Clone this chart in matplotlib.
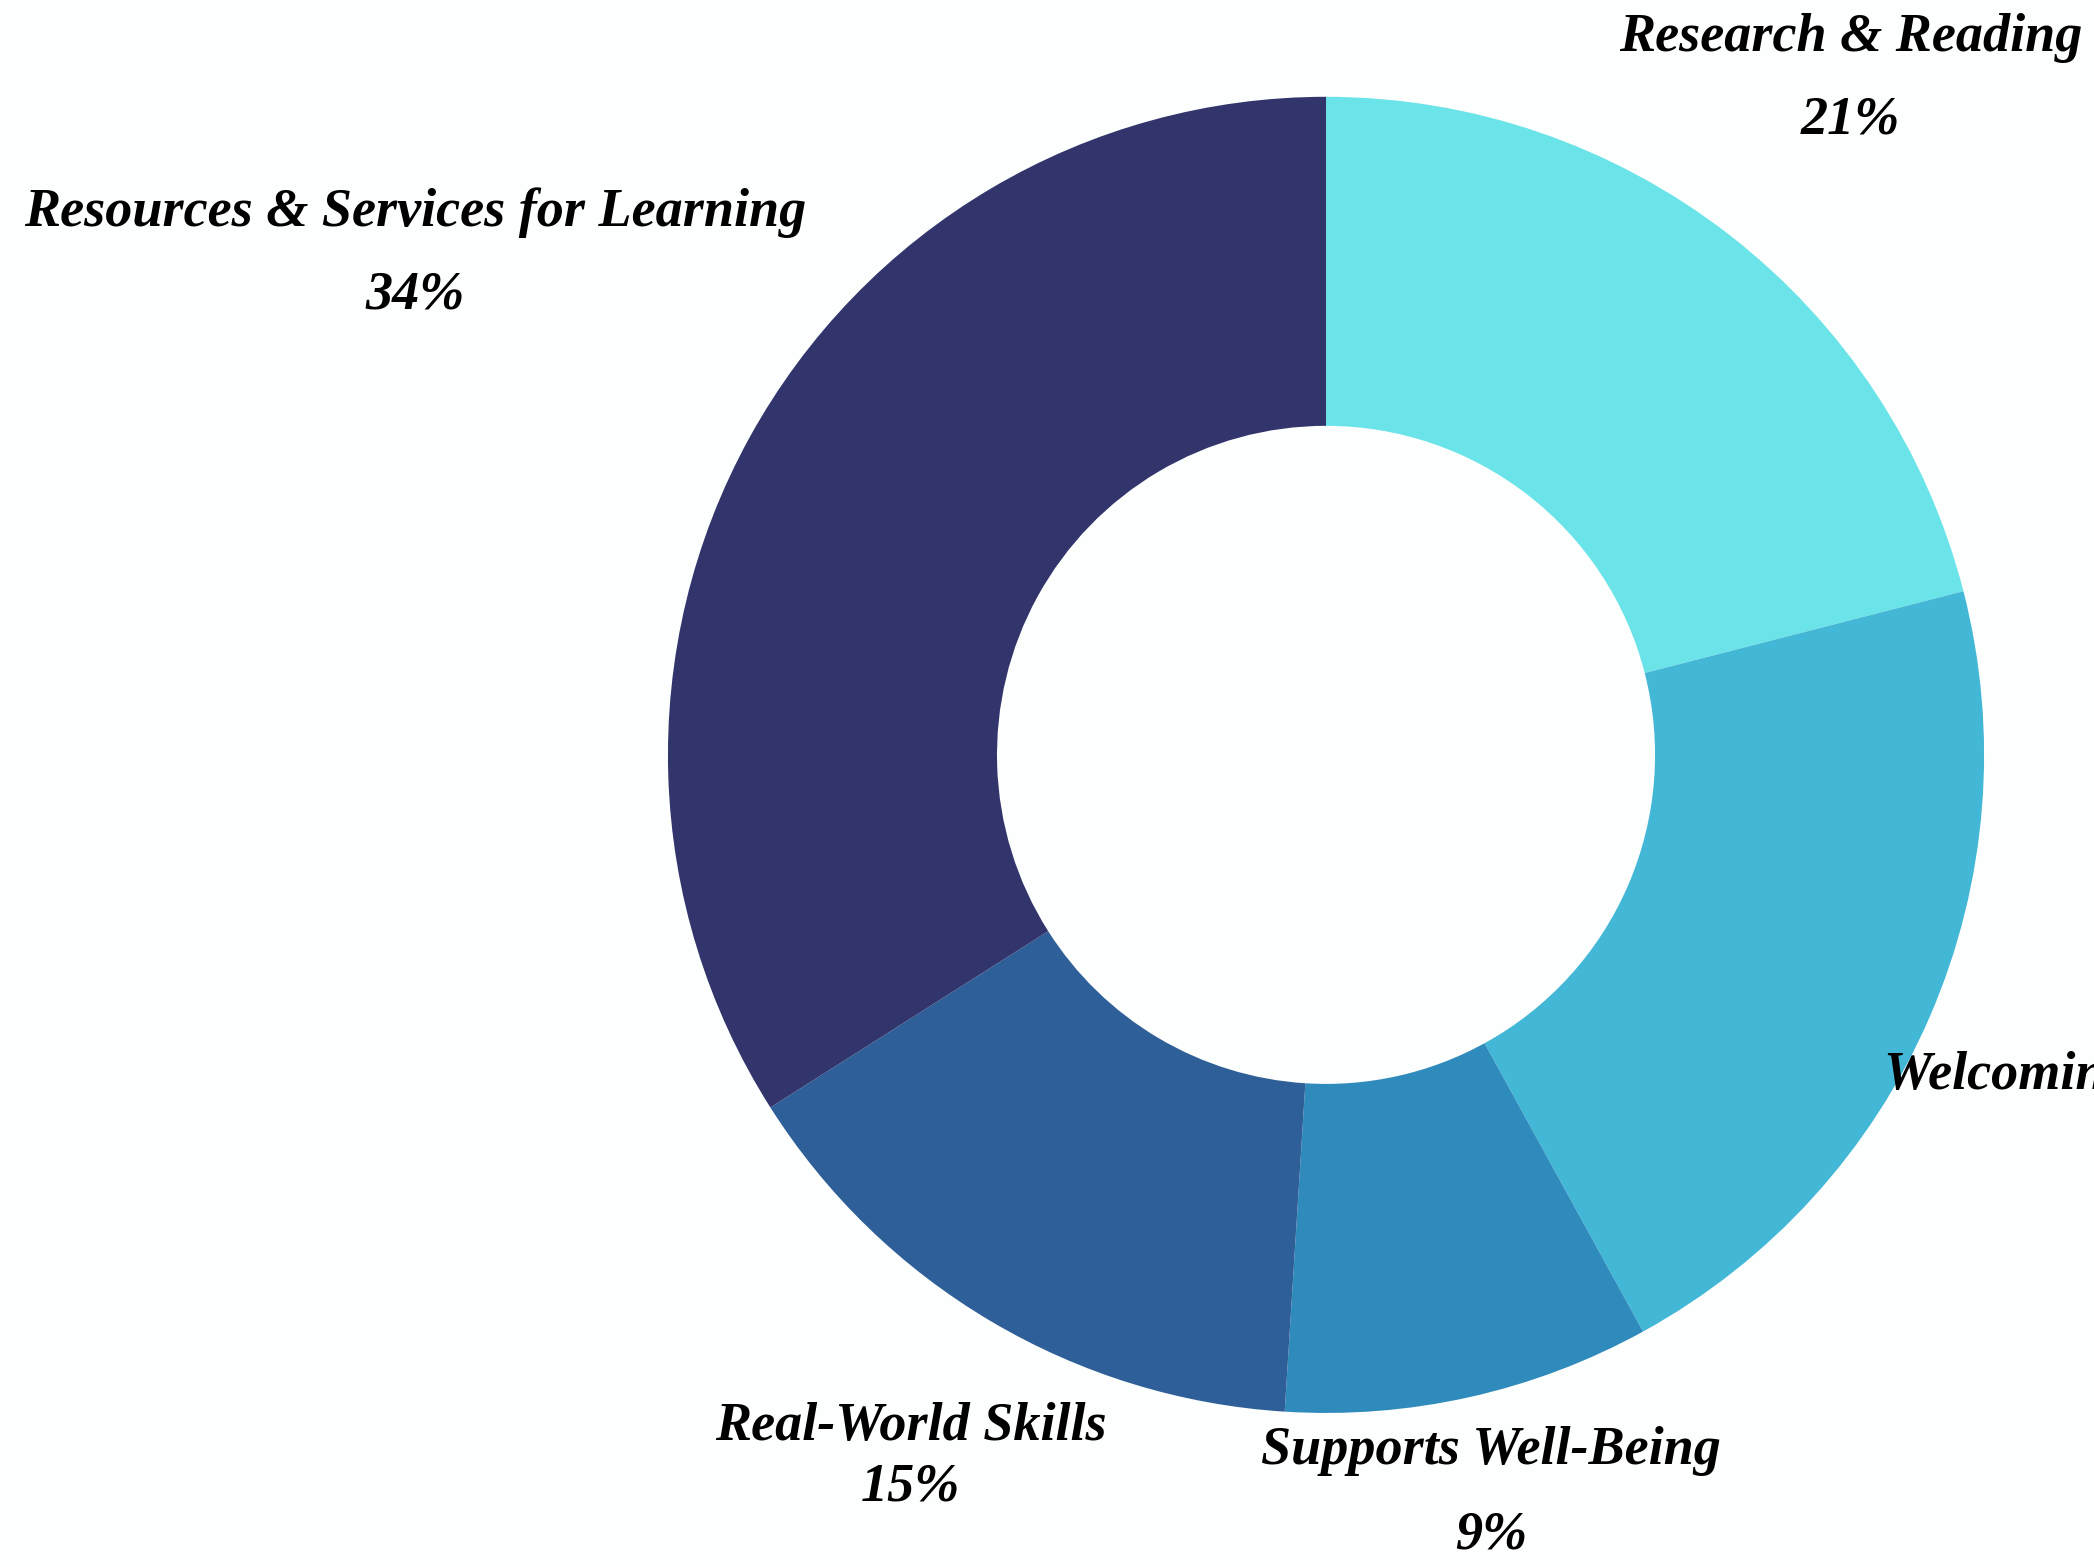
import matplotlib
matplotlib.use("Agg")
import numpy as np
import matplotlib.pyplot as plt


# Data, in drawing order (clockwise from the top)
labels = ['Research & Reading', 'Welcoming Environment', 'Supports Well-Being',
          'Real-World Skills', 'Resources & Services for Learning']
values = [21, 21, 9, 15, 34]
colors = ['#6ae4e8', '#42b7d6', '#2e8bbb', '#2f5f98', '#31356b']

# How far out each label sits (in pie radii) and gap between name and percent
label_dist = [1.30, 1.385, 1.15, 1.24, 1.58]
line_gap = [0.125, 0.125, 0.128, 0.092, 0.125]

bg = '#fdfefe'

fig = plt.figure(figsize=(20.94, 15.67), dpi=100)
fig.patch.set_facecolor(bg)
ax = fig.add_axes([0, 0, 1, 1])
ax.set_facecolor(bg)

wedges, _ = ax.pie(values, colors=colors, startangle=90, counterclock=False,
                   radius=1.0, wedgeprops=dict(width=0.5, linewidth=0))

font = dict(family='Liberation Serif', weight='bold', style='italic',
            size=39, color='black')

for w, lab, v, d, g in zip(wedges, labels, values, label_dist, line_gap):
    ang = np.deg2rad((w.theta1 + w.theta2) / 2)
    x = d * np.cos(ang)
    y = d * np.sin(ang)
    ax.text(x, y + g / 2, lab, ha='center', va='center', **font)
    ax.text(x, y - g / 2, f'{v}%', ha='center', va='center', **font)

ax.set_xlim(-2.015, 1.167)
ax.set_ylim(-1.234, 1.147)
ax.set_aspect('equal')
ax.axis('off')

fig.savefig('out.png', dpi=100, facecolor=bg)
